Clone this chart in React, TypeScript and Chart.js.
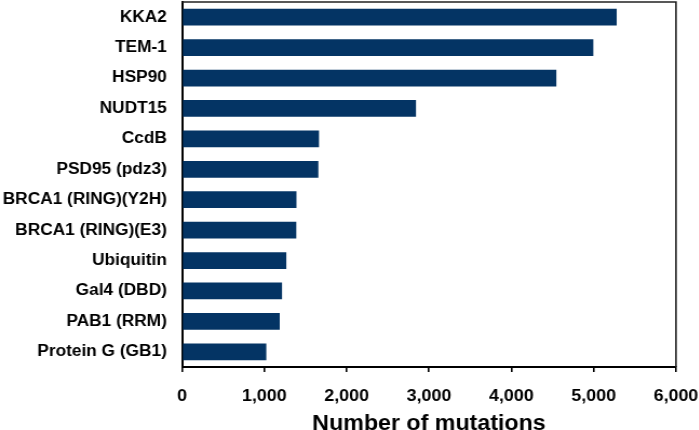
import React, { useEffect, useRef } from "react";
import { Chart, registerables } from "chart.js";

Chart.register(...registerables);

const categories = [
  "KKA2",
  "TEM-1",
  "HSP90",
  "NUDT15",
  "CcdB",
  "PSD95 (pdz3)",
  "BRCA1 (RING)(Y2H)",
  "BRCA1 (RING)(E3)",
  "Ubiquitin",
  "Gal4 (DBD)",
  "PAB1 (RRM)",
  "Protein G (GB1)",
];
const mutations = [5280, 4996, 4547, 2842, 1664, 1656, 1390, 1388, 1267, 1215, 1187, 1024];
const xTickValues = [0, 1000, 2000, 3000, 4000, 5000, 6000];
const xTitle = "Number of mutations";

const STRETCH = 1.08;
const FONT = "'Liberation Sans', Arial, sans-serif";
const W = 699 / STRETCH;

const framePlugin = {
  id: "frame",
  afterDraw(chart: any) {
    const { ctx, chartArea } = chart;
    ctx.save();
    ctx.strokeStyle = "#222";
    ctx.lineWidth = 1.6;
    ctx.beginPath();
    ctx.moveTo(chartArea.left, chartArea.top);
    ctx.lineTo(chartArea.right, chartArea.top);
    ctx.lineTo(chartArea.right, chartArea.bottom);
    ctx.stroke();
    ctx.restore();
  },
};

export default function App() {
  const ref = useRef<HTMLCanvasElement | null>(null);

  useEffect(() => {
    document.body.style.margin = "0";
    if (!ref.current) return;
    const chart = new Chart(ref.current, {
      type: "bar",
      data: {
        labels: categories,
        datasets: [
          {
            data: mutations,
            backgroundColor: "#043464",
            borderWidth: 0,
            categoryPercentage: 1,
            barPercentage: 0.55,
          },
        ],
      },
      options: {
        indexAxis: "y",
        animation: false,
        responsive: true,
        maintainAspectRatio: false,
        layout: { padding: { top: 2, right: W - 676 / STRETCH, bottom: 0, left: 0 } },
        plugins: {
          legend: { display: false },
          tooltip: { enabled: false },
        },
        scales: {
          x: {
            type: "linear",
            min: 0,
            max: 6000,
            afterBuildTicks(scale: any) {
              scale.ticks = xTickValues.map((v) => ({ value: v }));
            },
            afterFit(scale: any) {
              scale.height = 63;
              scale.paddingLeft = 0;
              scale.paddingRight = 0;
            },
            ticks: {
              color: "#000",
              font: { family: FONT, size: 16.5, weight: "bold" },
              padding: 15,
              maxRotation: 0,
              callback: (v: any) => Number(v).toLocaleString("en-US"),
            },
            grid: {
              display: true,
              drawOnChartArea: false,
              drawTicks: true,
              tickLength: 5,
              color: "#000",
              lineWidth: 1.6,
            },
            border: { display: true, color: "#000", width: 2 },
            title: {
              display: true,
              text: xTitle,
              color: "#000",
              font: { family: FONT, size: 21.5, weight: "bold" },
              padding: { top: 4, bottom: -7 },
            },
          },
          y: {
            afterFit(scale: any) {
              scale.width = 182 / STRETCH;
              scale.paddingTop = 0;
              scale.paddingBottom = 0;
            },
            ticks: {
              color: "#000",
              font: { family: FONT, size: 16, weight: "bold" },
              padding: 14,
            },
            grid: { display: false, drawTicks: false },
            border: { display: true, color: "#000", width: 2 },
          },
        },
      },
      plugins: [framePlugin],
    });
    return () => chart.destroy();
  }, []);

  return (
    <div style={{ width: 699, height: 430, overflow: "hidden", background: "#fff" }}>
      <div
        style={{
          width: W,
          height: 430,
          transform: `scaleX(${STRETCH})`,
          transformOrigin: "0 0",
          position: "relative",
        }}
      >
        <canvas ref={ref} />
      </div>
    </div>
  );
}
